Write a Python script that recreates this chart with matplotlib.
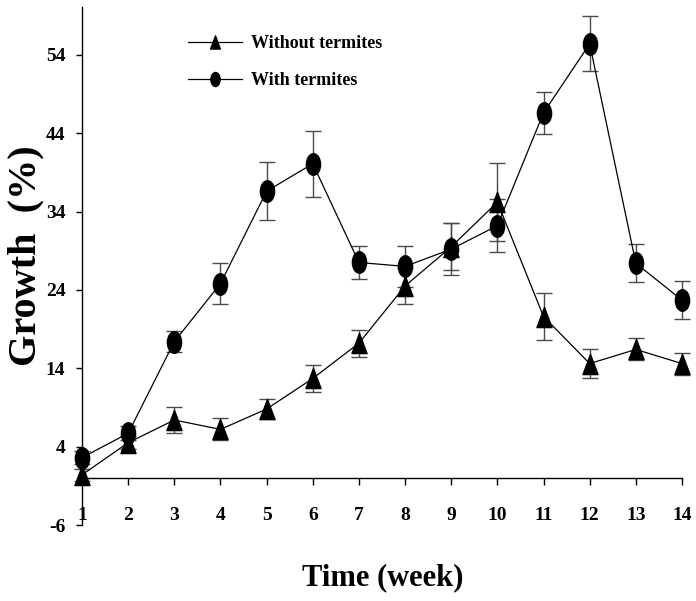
import numpy as np
import matplotlib
matplotlib.use('Agg')
import matplotlib.pyplot as plt
from matplotlib.path import Path

plt.rcParams['font.family'] = ['Liberation Serif', 'DejaVu Serif']
plt.rcParams['font.weight'] = 'bold'
plt.rcParams['axes.unicode_minus'] = False

weeks = np.arange(1, 15)
without_termites = [0.4, 4.5, 7.4, 6.2, 8.8, 12.7, 17.2, 24.5, 29.5, 35.2, 20.6, 14.6, 16.4, 14.6]
without_err = [0.8, 0.8, 1.6, 1.4, 1.3, 1.7, 1.7, 2.3, 3.0, 5.0, 3.0, 1.9, 1.4, 1.4]
with_termites = [2.6, 5.7, 17.4, 24.8, 36.6, 40.1, 27.5, 27.0, 29.2, 32.2, 46.6, 55.4, 27.4, 22.7]
with_err = [0.8, 0.9, 1.3, 2.6, 3.7, 4.2, 2.1, 2.6, 3.3, 3.4, 2.7, 3.5, 2.4, 2.4]
labels = ['Without termites', 'With termites']

# stretched markers like the original (taller than wide)
circ = Path.unit_circle()
ellipse = Path(circ.vertices * [0.66, 1.0], circ.codes)
tri = Path([(-0.75, -1.0), (0.75, -1.0), (0.0, 1.0), (-0.75, -1.0)],
           [Path.MOVETO, Path.LINETO, Path.LINETO, Path.CLOSEPOLY])

fig = plt.figure(figsize=(6.96, 6.01), dpi=100)
ax = fig.add_axes([82 / 696, 1 - 525 / 601, 600 / 696, 518 / 601])

ekw = dict(ecolor='#4a4a4a', elinewidth=1.0, capsize=6, capthick=1.0)
series = [(without_termites, without_err, tri, 14.5), (with_termites, with_err, ellipse, 15.5)]
for (vals, err, mk, size), lab in zip(series, labels):
    cont = ax.errorbar(weeks, vals, yerr=err, color='black', lw=0.9, marker=mk, ms=size,
                       mfc='black', mec='black', label=lab, **ekw)
    for artist in cont.lines[:2]:
        if artist is None:
            continue
        if isinstance(artist, tuple):
            for a in artist:
                a.set_clip_on(False)
        else:
            artist.set_clip_on(False)
    for coll in cont.lines[2]:
        coll.set_clip_on(False)

ax.set_xlim(1, 14)
ax.set_ylim(-6, 60.1)
ax.set_xticks(weeks)
ax.set_yticks(np.arange(-6, 55, 10))

for s in ['top', 'right']:
    ax.spines[s].set_visible(False)
ax.spines['bottom'].set_position(('data', 0))
ax.spines['bottom'].set_linewidth(1.0)
ax.spines['left'].set_linewidth(1.0)

ax.tick_params(axis='x', direction='out', length=5, width=1, pad=16, labelsize=14)
ax.tick_params(axis='y', direction='out', length=4, width=1, pad=8, labelsize=14)

ax.set_ylabel('Growth  (%)', fontsize=29, fontweight='bold')
ax.yaxis.set_label_coords(-38 / 600, (525 - 256) / 518)
fig.text(383 / 696, 1 - 578 / 601, 'Time (week)', fontsize=22, fontweight='bold',
         ha='center', va='center')

handles, labs = ax.get_legend_handles_labels()
handles = [h[0] for h in handles]
leg = fig.legend(handles, labs, loc='center left', bbox_to_anchor=(188 / 696, 1 - 62 / 601),
                 frameon=False, borderpad=0, borderaxespad=0, handlelength=3.0,
                 handletextpad=0.5, labelspacing=1.1, markerscale=0.65,
                 prop={'size': 13, 'weight': 'bold'})

fig.savefig('out.png', dpi=100)
